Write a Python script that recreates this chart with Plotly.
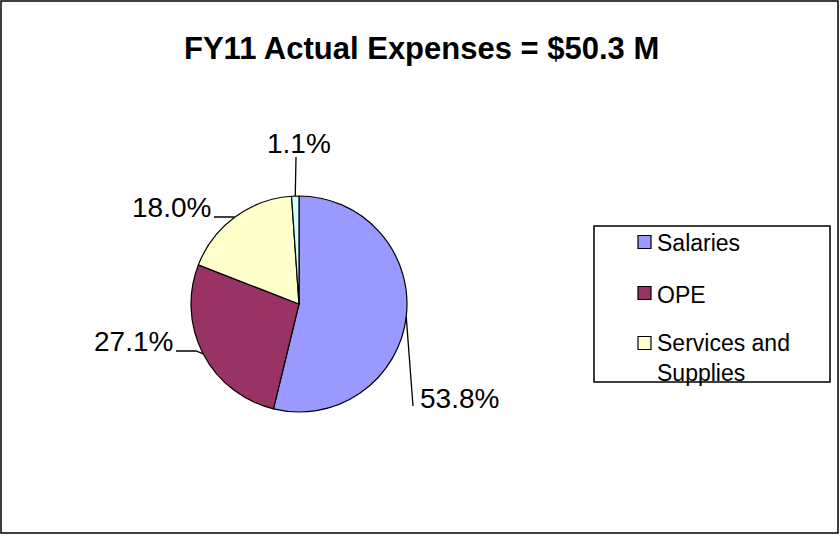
import math
import plotly.graph_objects as go

# ---- data ----
labels = ["Salaries", "OPE", "Services and Supplies", "Other"]
values = [53.8, 27.1, 18.0, 1.1]
colors = ["#9999FF", "#993366", "#FFFFCC", "#CCFFFF"]
value_text = ["53.8%", "27.1%", "18.0%", "1.1%"]
legend_labels = ["Salaries", "OPE", "Services and<br>Supplies"]
title_text = "FY11 Actual Expenses = $50.3 M"

# ---- layout geometry (pixels) ----
W, H = 840, 537
cx, cy, r = 299, 304, 108
FONT = "Liberation Sans, Arial, sans-serif"

def px(x):
    return x / W

def py(y):
    return 1 - y / H

fig = go.Figure()
fig.add_trace(go.Pie(
    labels=labels, values=values, sort=False, direction="clockwise", rotation=0,
    marker=dict(colors=colors, line=dict(color="black", width=1.2)),
    textinfo="none", hoverinfo="label+percent", showlegend=False,
    domain=dict(x=[px(cx - r), px(cx + r)], y=[py(cy + r), py(cy - r)]),
))

# label placement (text anchor point, alignment, leader-line end at label, elbow x or None)
label_pos = [
    dict(x=418, y=398, xanchor="left", yanchor="middle", end=(413, 406), elbow=None),
    dict(x=175, y=341, xanchor="right", yanchor="middle", end=(176, 351), elbow=196),
    dict(x=213, y=207, xanchor="right", yanchor="middle", end=(214, 217), elbow=232),
    dict(x=299, y=143, xanchor="center", yanchor="middle", end=(296, 157), elbow=None),
]

total = sum(values)
cum = 0.0
shapes = []
annotations = []
for v, txt, lp in zip(values, value_text, label_pos):
    theta = math.radians(360 * (cum + v / 2) / total)
    cum += v
    ex = cx + r * math.sin(theta)
    ey = cy - r * math.cos(theta)
    pts = [lp["end"]]
    if lp["elbow"] is not None:
        pts.append((lp["elbow"], lp["end"][1]))
    pts.append((ex, ey))
    path = "M " + " L ".join(f"{px(a):.5f},{py(b):.5f}" for a, b in pts)
    shapes.append(dict(type="path", path=path, xref="paper", yref="paper",
                       line=dict(color="black", width=1.3)))
    annotations.append(dict(text=txt, x=px(lp["x"]), y=py(lp["y"]), xref="paper", yref="paper",
                            xanchor=lp["xanchor"], yanchor=lp["yanchor"], showarrow=False,
                            font=dict(family=FONT, size=28, color="black")))

# title
annotations.append(dict(text="<b>" + title_text + "</b>", x=px(421), y=py(49), xref="paper", yref="paper",
                        xanchor="center", yanchor="middle", showarrow=False,
                        font=dict(family=FONT, size=31, color="black")))

# legend (manual)
shapes.append(dict(type="rect", xref="paper", yref="paper", x0=px(594), x1=px(830), y0=py(382), y1=py(226),
                   line=dict(color="black", width=1.5), fillcolor="rgba(0,0,0,0)"))
leg_y = [243, 295, 358]
leg_sq_y = [242, 293, 343]
for lab, col, ty, sy in zip(legend_labels, colors, leg_y, leg_sq_y):
    shapes.append(dict(type="rect", xref="paper", yref="paper", x0=px(638), x1=px(651), y0=py(sy + 6.5), y1=py(sy - 6.5),
                       line=dict(color="black", width=1.2), fillcolor=col))
    annotations.append(dict(text=lab, x=px(655), y=py(ty), xref="paper", yref="paper", xanchor="left",
                            yanchor="middle", align="left", showarrow=False,
                            font=dict(family=FONT, size=23, color="black")))

# outer border
shapes.append(dict(type="rect", xref="paper", yref="paper", x0=px(1), x1=px(838), y0=py(533), y1=py(1),
                   line=dict(color="black", width=1.5), fillcolor="rgba(0,0,0,0)"))

fig.update_layout(
    width=W, height=H, autosize=False,
    margin=dict(l=0, r=0, t=0, b=0),
    paper_bgcolor="white", plot_bgcolor="white",
    shapes=shapes, annotations=annotations, showlegend=False,
)
fig.write_html("out.html", config={"displayModeBar": False},
               post_script="document.body.style.margin='0';document.body.style.overflow='hidden';")
